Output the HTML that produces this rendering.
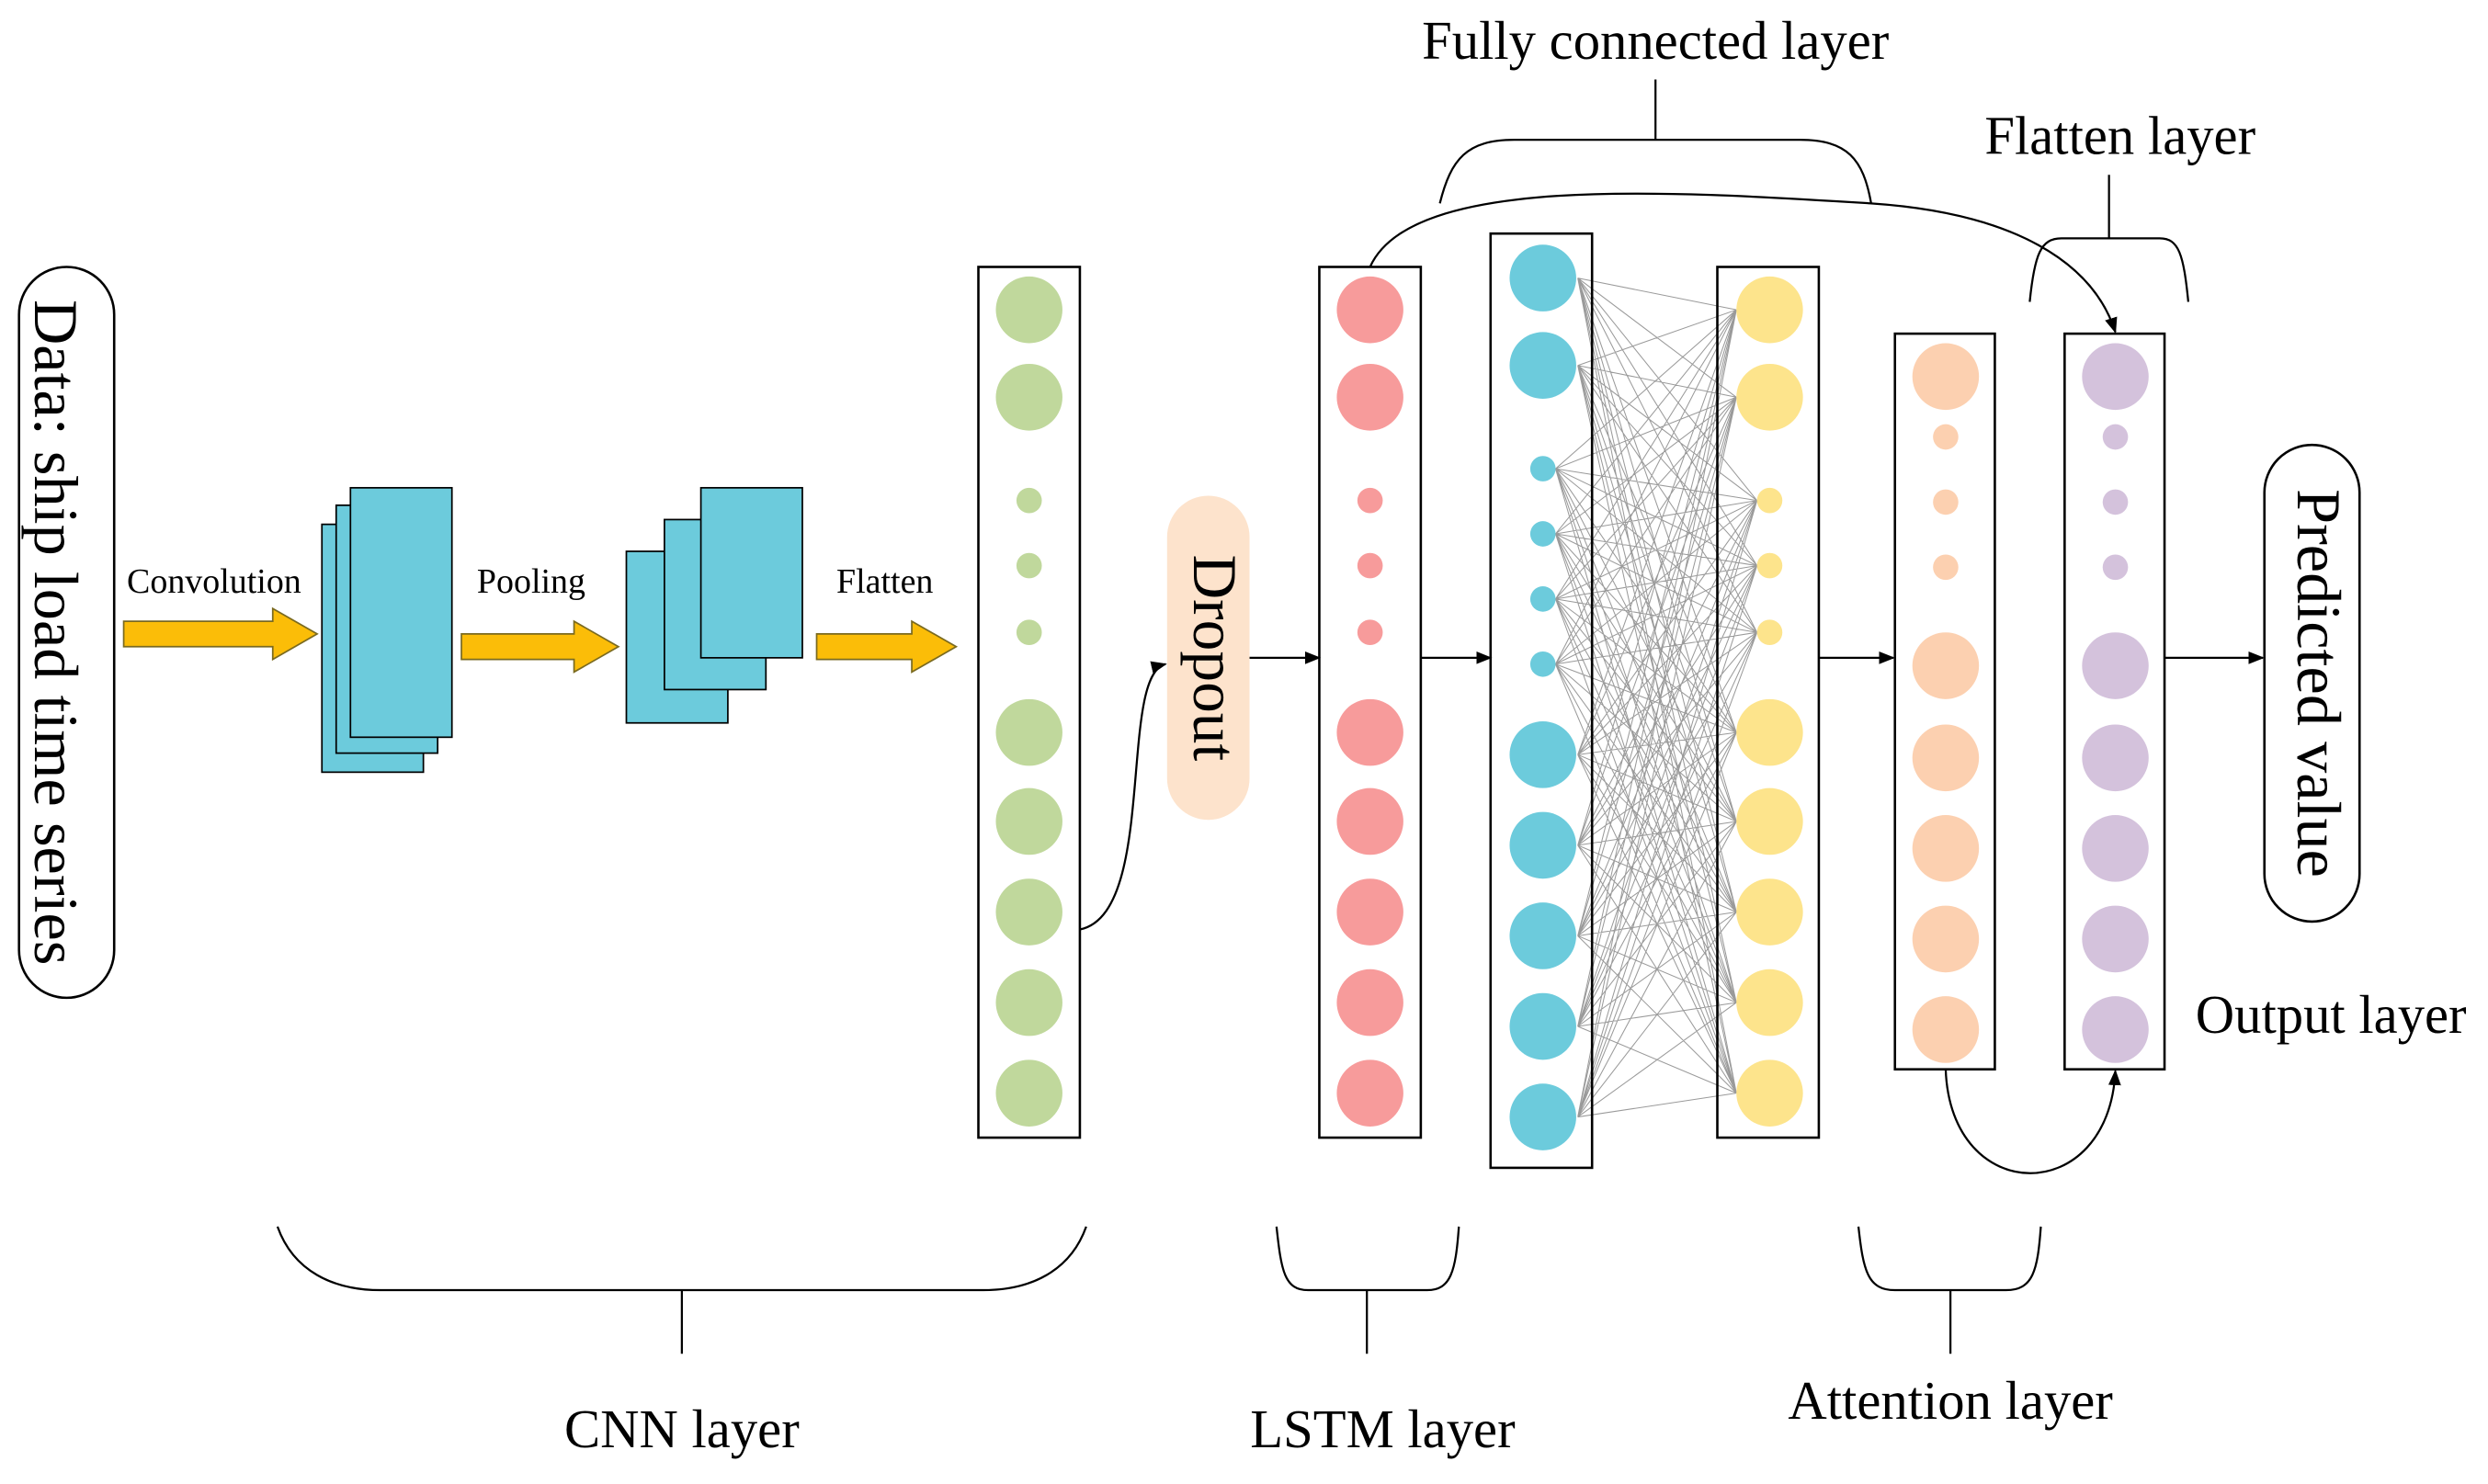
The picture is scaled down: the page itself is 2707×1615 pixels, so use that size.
<!DOCTYPE html>
<html><head><meta charset="utf-8"><style>html,body{margin:0;padding:0;background:#fff}svg{display:block}</style></head>
<body>
<svg width="2707" height="1615" viewBox="0 0 1569 934" preserveAspectRatio="none" xmlns="http://www.w3.org/2000/svg" font-family="Liberation Serif, serif">
<defs>
<marker id="ar" markerWidth="10" markerHeight="10" refX="9" refY="5" orient="auto" markerUnits="userSpaceOnUse"><path d="M0,1 L10,5 L0,9 Z" fill="#000"/></marker>
</defs>
<rect x="12" y="168" width="60" height="460" rx="30" fill="#fff" stroke="#000" stroke-width="1.5"/>
<text transform="translate(31,398) rotate(90)" font-size="39.5" text-anchor="middle" dominant-baseline="middle">Data: ship load time series</text>
<g fill="#fbbd08" stroke="#7a6a20" stroke-width="1">
<path d="M78,391 L172,391 L172,383 L200,399 L172,415 L172,407 L78,407 Z"/>
<path d="M291,399 L362,399 L362,391 L390,407 L362,423 L362,415 L291,415 Z"/>
<path d="M515,399 L575,399 L575,391 L603,407 L575,423 L575,415 L515,415 Z"/>
</g>
<g font-size="22" text-anchor="middle"><text x="135" y="373">Convolution</text><text x="335" y="373">Pooling</text><text x="558" y="373">Flatten</text></g>
<g fill="#6ccbdc" stroke="#000" stroke-width="1">
<rect x="203" y="330" width="64" height="156"/><rect x="212" y="318" width="64" height="156"/><rect x="221" y="307" width="64" height="157"/>
<rect x="395" y="347" width="64" height="108"/><rect x="419" y="327" width="64" height="107"/><rect x="442" y="307" width="64" height="107"/>
</g>
<g stroke="#9a9a9a" stroke-width="0.6">
<path d="M995,175 L1095,195 M995,175 L1095,250 M995,175 L1108,315 M995,175 L1108,356 M995,175 L1108,398 M995,175 L1095,461 M995,175 L1095,517 M995,175 L1095,574 M995,175 L1095,631 M995,175 L1095,688
M995,230 L1095,195 M995,230 L1095,250 M995,230 L1108,315 M995,230 L1108,356 M995,230 L1108,398 M995,230 L1095,461 M995,230 L1095,517 M995,230 L1095,574 M995,230 L1095,631 M995,230 L1095,688
M981,295 L1095,195 M981,295 L1095,250 M981,295 L1108,315 M981,295 L1108,356 M981,295 L1108,398 M981,295 L1095,461 M981,295 L1095,517 M981,295 L1095,574 M981,295 L1095,631 M981,295 L1095,688
M981,336 L1095,195 M981,336 L1095,250 M981,336 L1108,315 M981,336 L1108,356 M981,336 L1108,398 M981,336 L1095,461 M981,336 L1095,517 M981,336 L1095,574 M981,336 L1095,631 M981,336 L1095,688
M981,377 L1095,195 M981,377 L1095,250 M981,377 L1108,315 M981,377 L1108,356 M981,377 L1108,398 M981,377 L1095,461 M981,377 L1095,517 M981,377 L1095,574 M981,377 L1095,631 M981,377 L1095,688
M981,418 L1095,195 M981,418 L1095,250 M981,418 L1108,315 M981,418 L1108,356 M981,418 L1108,398 M981,418 L1095,461 M981,418 L1095,517 M981,418 L1095,574 M981,418 L1095,631 M981,418 L1095,688
M995,475 L1095,195 M995,475 L1095,250 M995,475 L1108,315 M995,475 L1108,356 M995,475 L1108,398 M995,475 L1095,461 M995,475 L1095,517 M995,475 L1095,574 M995,475 L1095,631 M995,475 L1095,688
M995,532 L1095,195 M995,532 L1095,250 M995,532 L1108,315 M995,532 L1108,356 M995,532 L1108,398 M995,532 L1095,461 M995,532 L1095,517 M995,532 L1095,574 M995,532 L1095,631 M995,532 L1095,688
M995,589 L1095,195 M995,589 L1095,250 M995,589 L1108,315 M995,589 L1108,356 M995,589 L1108,398 M995,589 L1095,461 M995,589 L1095,517 M995,589 L1095,574 M995,589 L1095,631 M995,589 L1095,688
M995,646 L1095,195 M995,646 L1095,250 M995,646 L1108,315 M995,646 L1108,356 M995,646 L1108,398 M995,646 L1095,461 M995,646 L1095,517 M995,646 L1095,574 M995,646 L1095,631 M995,646 L1095,688
M995,703 L1095,195 M995,703 L1095,250 M995,703 L1108,315 M995,703 L1108,356 M995,703 L1108,398 M995,703 L1095,461 M995,703 L1095,517 M995,703 L1095,574 M995,703 L1095,631 M995,703 L1095,688"/>
</g>
<g fill="#fff" stroke="#000" stroke-width="1.5">
<rect x="617" y="168" width="64" height="548"/>
<rect x="832" y="168" width="64" height="548"/>
<rect x="940" y="147" width="64" height="588" fill="none"/>
<rect x="1083" y="168" width="64" height="548" fill="none"/>
<rect x="1195" y="210" width="63" height="463"/>
<rect x="1302" y="210" width="63" height="463"/>
</g>
<g fill="#c0d89c"><circle cx="649" cy="195" r="21"/><circle cx="649" cy="250" r="21"/><circle cx="649" cy="315" r="8"/><circle cx="649" cy="356" r="8"/><circle cx="649" cy="398" r="8"/><circle cx="649" cy="461" r="21"/><circle cx="649" cy="517" r="21"/><circle cx="649" cy="574" r="21"/><circle cx="649" cy="631" r="21"/><circle cx="649" cy="688" r="21"/></g>
<g fill="#f79b9b"><circle cx="864" cy="195" r="21"/><circle cx="864" cy="250" r="21"/><circle cx="864" cy="315" r="8"/><circle cx="864" cy="356" r="8"/><circle cx="864" cy="398" r="8"/><circle cx="864" cy="461" r="21"/><circle cx="864" cy="517" r="21"/><circle cx="864" cy="574" r="21"/><circle cx="864" cy="631" r="21"/><circle cx="864" cy="688" r="21"/></g>
<g fill="#6ccbdc"><circle cx="973" cy="175" r="21"/><circle cx="973" cy="230" r="21"/><circle cx="973" cy="295" r="8"/><circle cx="973" cy="336" r="8"/><circle cx="973" cy="377" r="8"/><circle cx="973" cy="418" r="8"/><circle cx="973" cy="475" r="21"/><circle cx="973" cy="532" r="21"/><circle cx="973" cy="589" r="21"/><circle cx="973" cy="646" r="21"/><circle cx="973" cy="703" r="21"/></g>
<g fill="#fde48c"><circle cx="1116" cy="195" r="21"/><circle cx="1116" cy="250" r="21"/><circle cx="1116" cy="315" r="8"/><circle cx="1116" cy="356" r="8"/><circle cx="1116" cy="398" r="8"/><circle cx="1116" cy="461" r="21"/><circle cx="1116" cy="517" r="21"/><circle cx="1116" cy="574" r="21"/><circle cx="1116" cy="631" r="21"/><circle cx="1116" cy="688" r="21"/></g>
<g fill="#fcd0b0"><circle cx="1227" cy="237" r="21"/><circle cx="1227" cy="275" r="8"/><circle cx="1227" cy="316" r="8"/><circle cx="1227" cy="357" r="8"/><circle cx="1227" cy="419" r="21"/><circle cx="1227" cy="477" r="21"/><circle cx="1227" cy="534" r="21"/><circle cx="1227" cy="591" r="21"/><circle cx="1227" cy="648" r="21"/></g>
<g fill="#d4c2dc"><circle cx="1334" cy="237" r="21"/><circle cx="1334" cy="275" r="8"/><circle cx="1334" cy="316" r="8"/><circle cx="1334" cy="357" r="8"/><circle cx="1334" cy="419" r="21"/><circle cx="1334" cy="477" r="21"/><circle cx="1334" cy="534" r="21"/><circle cx="1334" cy="591" r="21"/><circle cx="1334" cy="648" r="21"/></g>
<rect x="736" y="312" width="52" height="204" rx="26" fill="#fde3cc"/>
<text transform="translate(762,414) rotate(90)" font-size="39" text-anchor="middle" dominant-baseline="middle">Dropout</text>
<rect x="1428" y="280" width="60" height="300" rx="30" fill="#fff" stroke="#000" stroke-width="1.5"/>
<text transform="translate(1458,430) rotate(90)" font-size="39.5" text-anchor="middle" dominant-baseline="middle">Predicted value</text>
<g stroke="#000" stroke-width="1.3" fill="none" marker-end="url(#ar)">
<path d="M681,585 C730,575 705,425 735,418"/>
<line x1="788" y1="414" x2="832" y2="414"/>
<line x1="896" y1="414" x2="940" y2="414"/>
<line x1="1147" y1="414" x2="1194" y2="414"/>
<line x1="1365" y1="414" x2="1427" y2="414"/>
<path d="M864,168 C890,110 1050,120 1180,128 C1270,134 1320,165 1334,209"/>
<path d="M1227,673 C1230,760 1330,760 1334,674"/>
</g>
<g stroke="#000" stroke-width="1.3" fill="none">
<path d="M175,772 C185,800 210,812 240,812 L620,812 C650,812 675,800 685,772"/><line x1="430" y1="812" x2="430" y2="852"/>
<path d="M805,772 C808,800 810,812 825,812 L900,812 C915,812 918,800 920,772"/><line x1="862" y1="812" x2="862" y2="852"/>
<path d="M1172,772 C1175,800 1178,812 1195,812 L1265,812 C1282,812 1285,800 1287,772"/><line x1="1230" y1="812" x2="1230" y2="852"/>
<path d="M908,128 C915,100 925,88 955,88 L1135,88 C1165,88 1175,100 1180,128"/><line x1="1044" y1="88" x2="1044" y2="50"/>
<path d="M1280,190 C1283,160 1287,150 1300,150 L1362,150 C1374,150 1377,160 1380,190"/><line x1="1330" y1="150" x2="1330" y2="110"/>
</g>
<g font-size="34" text-anchor="middle">
<text x="430" y="911">CNN layer</text>
<text x="872" y="911">LSTM layer</text>
<text x="1230" y="893">Attention layer</text>
<text x="1044" y="37">Fully connected layer</text>
<text x="1337" y="97">Flatten layer</text>
<text x="1470" y="650">Output layer</text>
</g>
</svg>
</body></html>
